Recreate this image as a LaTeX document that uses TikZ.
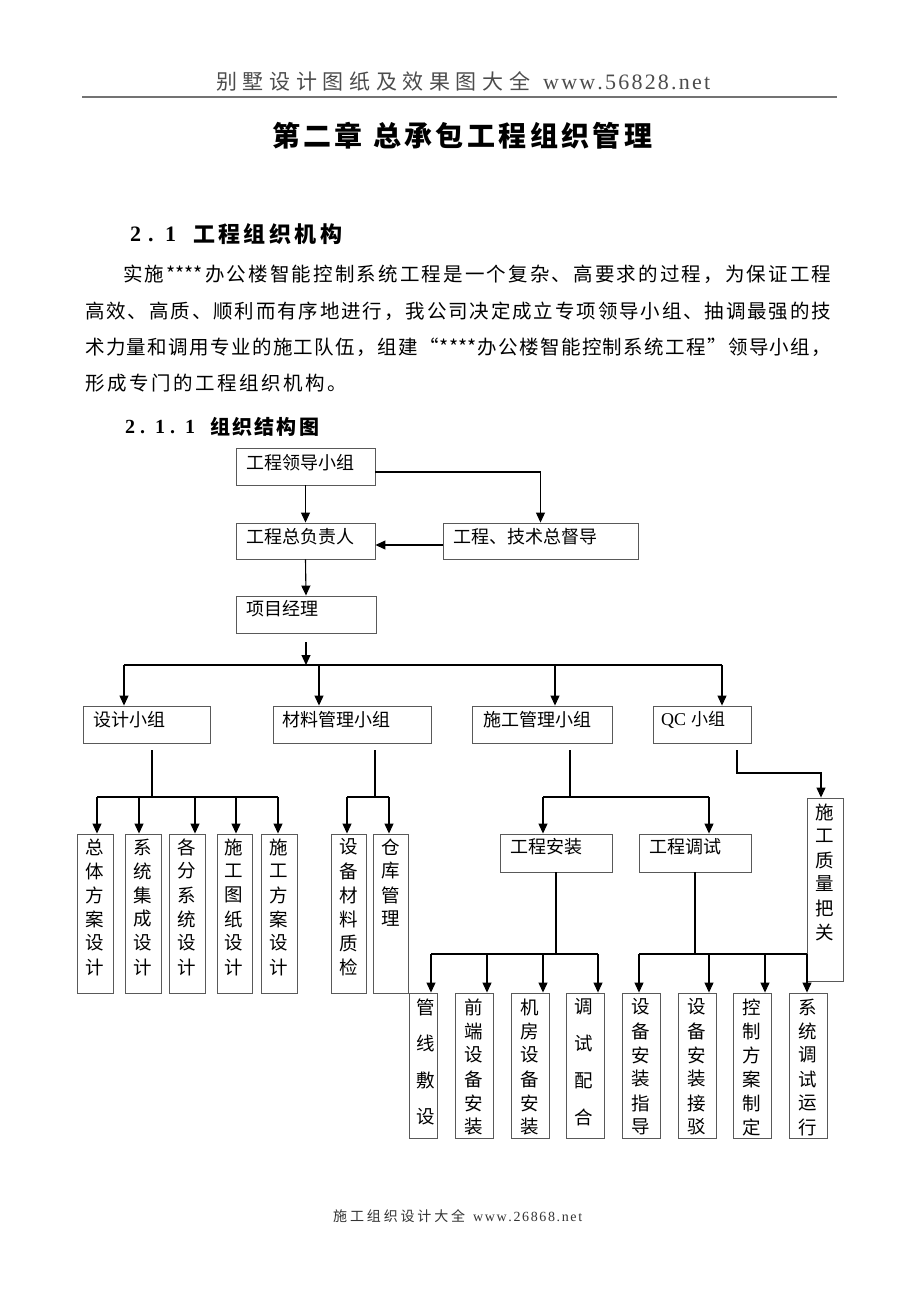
\documentclass[tikz,border=0pt]{standalone}
\usepackage{fontspec}
\setmainfont{Liberation Serif}
\newfontfamily\cjk{Noto Sans CJK SC}
\usetikzlibrary{arrows.meta,calc}
\def\sprstop{}
\def\sprmark{\sprstop}
\def\sprA#1{#1\sprB}
\def\sprB#1{\def\sprtmp{#1}\ifx\sprtmp\sprmark\else\hfil#1\expandafter\sprB\fi}
\newcommand\spreadto[2]{\hbox to #1{\sprA#2\sprstop}}
\newcommand\mkbox[5]{\node[box, minimum width={(#4-#2)*1pt}, minimum height={(#5-#3)*1pt}] (#1) at ({(#2+#4)/2},{(#3+#5)/2}) {};}
\newcommand\vtxt[5]{\foreach \c [count=\i from 0] in {#5} {\node[vc] (#1-\i) at (#2,{#3+\i*#4}) {\c};}}
\begin{document}
\begin{tikzpicture}[x=1pt,y=-1pt,
  box/.style={draw=black!65, line width=0.9pt, inner sep=0pt},
  arr/.style={draw=black, line width=1.1pt, -{Triangle[length=10pt,width=9pt]}},
  ln/.style={draw=black, line width=1.1pt},
  ht/.style={font=\cjk\fontsize{18}{18}\selectfont, inner sep=0pt, anchor=west},
  vc/.style={font=\cjk\fontsize{18.5}{18.5}\selectfont, inner sep=0pt},
  pt/.style={font=\cjk\fontsize{19.5}{20}\selectfont, inner sep=0pt, anchor=west},
]
\fill[white] (0,0) rectangle (920,1302);
\useasboundingbox (0,0) rectangle (920,1302);

% header
\node[anchor=west, inner sep=0pt, text=black!70, font=\cjk\fontsize{21}{21}\selectfont] (hd1) at (216,81) {\spreadto{314pt}{别墅设计图纸及效果图大全}};
\node[anchor=west, inner sep=0pt, text=black!70, font=\fontsize{22}{22}\selectfont] (hd2) at (543,82.5) {\spreadto{167pt}{www.56828.net}};
\draw[black!55, line width=1.6pt] (82,97) -- (837,97);

% title
\node[anchor=west, inner sep=0pt, font=\cjk\bfseries\fontsize{28}{28}\selectfont] (ti1) at (272,135.5) {\spreadto{90pt}{第二章}};
\node[anchor=west, inner sep=0pt, font=\cjk\bfseries\fontsize{28}{28}\selectfont] (ti2) at (373,135.5) {\spreadto{279pt}{总承包工程组织管理}};

% section
\node[anchor=west, inner sep=0pt, font=\bfseries\fontsize{22}{22}\selectfont] (s1n) at (130,234) {2\hspace{7pt}.\hspace{11.5pt}1};
\node[anchor=west, inner sep=0pt, font=\cjk\bfseries\fontsize{22}{22}\selectfont] (s1t) at (193,234) {\spreadto{149pt}{工程组织机构}};

% paragraph
\node[pt] (p1) at (123,274) {\spreadto{708pt}{实施{****}办公楼智能控制系统工程是一个复杂、高要求的过程，为保证工程}};
\node[pt] (p2) at (85,311) {\spreadto{746pt}{高效、高质、顺利而有序地进行，我公司决定成立专项领导小组、抽调最强的技}};
\node[pt] (p3) at (85,347) {\spreadto{746pt}{术力量和调用专业的施工队伍，组建“{****}办公楼智能控制系统工程”领导小组，}};
\node[pt] (p4) at (85,383) {\spreadto{262pt}{形成专门的工程组织机构。}};

% subsection
\node[anchor=west, inner sep=0pt, font=\bfseries\fontsize{20}{20}\selectfont] (s2n) at (125,427) {2\hspace{5pt}.\hspace{10pt}1\hspace{5pt}.\hspace{10pt}1};
\node[anchor=west, inner sep=0pt, font=\cjk\bfseries\fontsize{20}{20}\selectfont] (s2t) at (210,427) {\spreadto{109pt}{组织结构图}};

% top boxes
\mkbox{lead}{236}{448}{375}{485}
\mkbox{chief}{236}{523}{375}{559}
\mkbox{super}{443}{523}{638}{559}
\mkbox{pm}{236}{596}{376}{633}
\node[ht] (leadt) at (246,463) {工程领导小组};
\node[ht] (chieft) at (246,537) {工程总负责人};
\node[ht] (supert) at (453,537) {工程、技术总督导};
\node[ht] (pmt) at (246,609) {项目经理};

\draw[arr] (lead.south) -- (chief.north);
\draw[arr] ([yshift=-5.5pt]lead.east) -| (super.north);
\draw[arr] ([yshift=-4pt]super.west) -- ([yshift=-4pt]chief.east);
\draw[arr] (chief.south) -- (pm.north);

% groups
\mkbox{gD}{83}{706}{210.5}{743}
\mkbox{gM}{273}{706}{431.5}{743}
\mkbox{gC}{472}{706}{612}{743}
\mkbox{gQ}{653}{706}{751}{743}
\node[ht] (gDt) at (93,720) {设计小组};
\node[ht] (gMt) at (282,720) {材料管理小组};
\node[ht] (gCt) at (483,720) {施工管理小组};
\node[ht, font=\fontsize{18}{18}\selectfont] (gQt) at (661,720) {QC\hspace{5pt}{\cjk\fontsize{17}{17}\selectfont 小组}};

\coordinate (pmo) at (306,642);
\coordinate (bm) at (306,665);
\coordinate (bL) at (124,665);
\coordinate (bR) at (722,665);
\draw[arr] (pmo) -- (bm);
\draw[ln] (bL) -- (bR);
\foreach \x/\n in {124/gD,319/gM,555/gC,722/gQ}{
  \coordinate (t\n) at (\x,665);
  \draw[arr] (t\n) -- (t\n |- \n.north);
}

% design subboxes
\mkbox{d1}{77}{834}{113}{993}
\mkbox{d2}{125}{834}{161}{993}
\mkbox{d3}{169}{834}{205}{993}
\mkbox{d4}{217}{834}{252}{993}
\mkbox{d5}{261}{834}{297}{993}
\mkbox{m1}{331}{834}{366}{993}
\mkbox{m2}{373}{834}{408}{993}
\vtxt{d1t}{95}{847}{24}{总,体,方,案,设,计}
\vtxt{d2t}{142.5}{847}{24}{系,统,集,成,设,计}
\vtxt{d3t}{187}{847}{24}{各,分,系,统,设,计}
\vtxt{d4t}{234}{847}{24}{施,工,图,纸,设,计}
\vtxt{d5t}{279}{847}{24}{施,工,方,案,设,计}
\vtxt{m1t}{348.5}{847}{24}{设,备,材,料,质,检}
\vtxt{m2t}{390.5}{847}{24}{仓,库,管,理}

\coordinate (gDo) at (152,750);
\coordinate (gDb) at (152,797);
\draw[ln] (gDo) -- (gDb);
\draw[ln] (97,797) -- (278,797);
\foreach \x/\n in {97/d1,139/d2,195/d3,236/d4,278/d5}{
  \coordinate (s\n) at (\x,797);
  \draw[arr] (s\n) -- (s\n |- \n.north);
}
\coordinate (gMo) at (375,750);
\coordinate (gMb) at (375,797);
\draw[ln] (gMo) -- (gMb);
\draw[ln] (347,797) -- (389,797);
\foreach \x/\n in {347/m1,389/m2}{
  \coordinate (s\n) at (\x,797);
  \draw[arr] (s\n) -- (s\n |- \n.north);
}

% construction
\mkbox{cA}{500}{834}{612}{872}
\mkbox{cT}{639}{834}{751}{872}
\node[ht] (cAt) at (510,847) {工程安装};
\node[ht] (cTt) at (649,847) {工程调试};
\coordinate (gCo) at (570,750);
\coordinate (gCb) at (570,797);
\draw[ln] (gCo) -- (gCb);
\draw[ln] (543,797) -- (709,797);
\foreach \x/\n in {543/cA,709/cT}{
  \coordinate (s\n) at (\x,797);
  \draw[arr] (s\n) -- (s\n |- \n.north);
}

% QC
\mkbox{qq}{807}{798}{843}{981}
\vtxt{qqt}{825}{812}{24}{施,工,质,量,把,关}
\coordinate (gQo) at (737,750);
\coordinate (qturn) at (821,773);
\draw[arr] (gQo) |- (qturn) -- (qturn |- qq.north);

% bottom boxes
\mkbox{b1}{409}{993}{437}{1138}
\mkbox{b2}{455}{993}{493}{1138}
\mkbox{b3}{511}{993}{549}{1138}
\mkbox{b4}{566}{993}{604}{1138}
\mkbox{b5}{622}{993}{660}{1138}
\mkbox{b6}{678}{993}{716}{1138}
\mkbox{b7}{733}{993}{771}{1138}
\mkbox{b8}{789}{993}{827}{1138}
\vtxt{b1t}{426}{1007}{36.7}{管,线,敷,设}
\vtxt{b2t}{474}{1007}{24}{前,端,设,备,安,装}
\vtxt{b3t}{530}{1007}{24}{机,房,设,备,安,装}
\vtxt{b4t}{584}{1007}{36.7}{调,试,配,合}
\vtxt{b5t}{641}{1007}{24}{设,备,安,装,指,导}
\vtxt{b6t}{697}{1007}{24}{设,备,安,装,接,驳}
\vtxt{b7t}{752}{1007}{24}{控,制,方,案,制,定}
\vtxt{b8t}{808}{1007}{24}{系,统,调,试,运,行}

\coordinate (cAb) at (556,954);
\draw[ln] (cA.south) -- (cAb);
\draw[ln] (431,954) -- (598,954);
\foreach \x/\n in {431/b1,487/b2,543/b3,598/b4}{
  \coordinate (s\n) at (\x,954);
  \draw[arr] (s\n) -- (s\n |- \n.north);
}
\coordinate (cTb) at (695,954);
\draw[ln] (cT.south) -- (cTb);
\draw[ln] (639,954) -- (807,954);
\foreach \x/\n in {639/b5,709/b6,765/b7,807/b8}{
  \coordinate (s\n) at (\x,954);
  \draw[arr] (s\n) -- (s\n |- \n.north);
}

% footer
\node[anchor=west, inner sep=0pt, text=black!80, font=\cjk\fontsize{14}{14}\selectfont] (ft1) at (333,1216) {\spreadto{132pt}{施工组织设计大全}};
\node[anchor=west, inner sep=0pt, text=black!80, font=\fontsize{14}{14}\selectfont] (ft2) at (473,1216.5) {\spreadto{109pt}{www.26868.net}};
\end{tikzpicture}
\end{document}
